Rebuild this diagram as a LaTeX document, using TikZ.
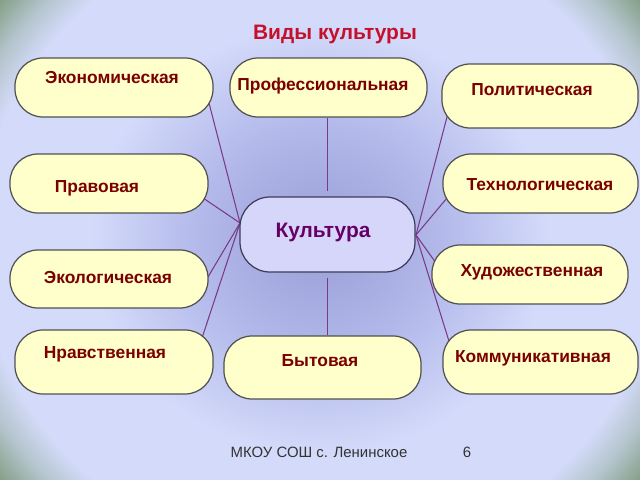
\documentclass[tikz,border=0pt]{standalone}
\usepackage{fontspec}
\setmainfont{Liberation Sans}
\usetikzlibrary{calc}
\definecolor{cDark}{HTML}{989DD6}
\definecolor{cMid}{HTML}{B3B9EA}
\definecolor{cLight}{HTML}{D4DBFA}
\definecolor{cGray}{HTML}{B4C4CC}
\definecolor{cGreen}{HTML}{7C9A7C}
\definecolor{boxfill}{HTML}{FFFFCC}
\definecolor{boxline}{HTML}{505050}
\definecolor{boxtext}{HTML}{7A0000}
\definecolor{culfill}{HTML}{D6D6FA}
\definecolor{culline}{HTML}{3C3C5A}
\definecolor{cultext}{HTML}{660066}
\definecolor{linkcol}{HTML}{7A3A8A}
\definecolor{titlecol}{HTML}{C4102C}
\definecolor{footcol}{HTML}{333333}
\pgfdeclareradialshading{vign}{\pgfpoint{0bp}{0bp}}{color(0bp)=(cDark); color(9bp)=(cMid); color(17bp)=(cLight); color(25bp)=(cLight); color(27.5bp)=(cGray); color(30.5bp)=(cGreen); color(50bp)=(cGreen)}
\pgfdeclarelayer{bgl}
\pgfdeclarelayer{lnk}
\pgfsetlayers{bgl,lnk,main}
\tikzset{
  kbox/.style={draw=boxline, line width=0.7pt, fill=boxfill, rounded corners=0.56cm, inner sep=0pt},
  ktext/.style={text=boxtext, font=\fontsize{9.9}{11}\selectfont\bfseries, inner sep=0pt, anchor=base},
  link/.style={draw=linkcol, line width=0.6pt},
}
\newcommand\kbx[5]{\node[kbox, minimum width=#4*0.02cm, minimum height=#5*0.02cm] (#1) at (#2,#3) {};}
\begin{document}
\begin{tikzpicture}[x=0.02cm,y=-0.02cm]
\useasboundingbox (0,0) rectangle (640,480);
\begin{pgfonlayer}{bgl}
\begin{scope}
\clip (0,0) rectangle (640,480);
\shade[shading=vign] (-20,-80) rectangle (660,560);
\end{scope}
\end{pgfonlayer}

\node[text=titlecol, font=\fontsize{11.9}{13}\selectfont\bfseries, inner sep=0pt, anchor=base] (title) at (335,39) {Виды культуры};

\kbx{eco}{114}{87.5}{198}{59}
\kbx{prof}{328.5}{87.5}{197}{59}
\kbx{pol}{540}{96}{196}{64}
\kbx{prav}{109}{183.5}{198}{59}
\kbx{tech}{540.5}{183.5}{195}{59}
\kbx{ecol}{109}{279}{198}{58}
\kbx{hud}{530}{274.5}{196}{59}
\kbx{nrav}{114}{362}{198}{64}
\kbx{byt}{322.5}{367.5}{197}{63}
\kbx{kom}{540.5}{362}{195}{64}

\node[draw=culline, line width=0.7pt, fill=culfill, rounded corners=0.6cm, inner sep=0pt,
      minimum width=175*0.02cm, minimum height=75*0.02cm] (cul) at (327.5,234.5) {};
\node[text=cultext, font=\fontsize{11.9}{13}\selectfont\bfseries, inner sep=0pt, anchor=base] (cult) at (323,237.5) {Культура};

\node[ktext] (ecot) at (112,83) {Экономическая};
\node[ktext] (proft) at (323,91) {Профессиональная};
\node[ktext] (polt) at (532,95) {Политическая};
\node[ktext] (pravt) at (97,193) {Правовая};
\node[ktext] (techt) at (540,190) {Технологическая};
\node[ktext] (ecolt) at (108,283) {Экологическая};
\node[ktext] (hudt) at (532,276) {Художественная};
\node[ktext] (nravt) at (105,358) {Нравственная};
\node[ktext] (bytt) at (320,366) {Бытовая};
\node[ktext] (komt) at (533,362) {Коммуникативная};

\node[text=footcol, font=\fontsize{8.5}{10}\selectfont, inner sep=0pt, anchor=base] (foot) at (319,457) {МКОУ СОШ с. Ленинское};
\node[text=footcol, font=\fontsize{8.5}{10}\selectfont, inner sep=0pt, anchor=base] (pnum) at (467,457) {6};

\coordinate (cL) at (240,223);
\coordinate (cR) at (416,235);
\coordinate (eEnd) at (209,103);
\coordinate (prEnd) at (203,198);
\coordinate (ecEnd) at (208,277);
\coordinate (nrEnd) at (203,335);
\coordinate (poEnd) at (447,117);
\coordinate (teEnd) at (447,198);
\coordinate (huEnd) at (436,263);
\coordinate (koEnd) at (448,338);

\begin{pgfonlayer}{lnk}
\foreach \a/\b in {cL/eEnd, cL/prEnd, cL/ecEnd, cL/nrEnd, cR/poEnd, cR/teEnd, cR/huEnd, cR/koEnd}
  \draw[link] (\a) -- ($(\a)!1.04!(\b)$);
\draw[link] ([yshift=0.1cm]cul.north) -- (cul.north |- prof.south);
\draw[link] ([yshift=-0.1cm]cul.south) -- (cul.south |- byt.north);
\end{pgfonlayer}
\end{tikzpicture}
\end{document}
